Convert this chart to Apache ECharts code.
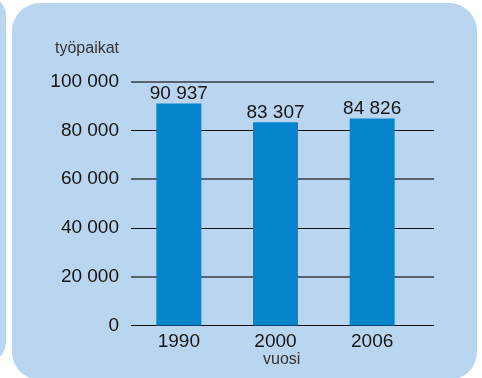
<!DOCTYPE html>
<html>
<head>
<meta charset="utf-8">
<style>
  html, body { margin: 0; padding: 0; background: #ffffff; }
  #chart { width: 482px; height: 378px; }
</style>
<script src="https://cdn.jsdelivr.net/npm/echarts@6/dist/echarts.min.js"></script>
</head>
<body>
<div id="chart"></div>
<script>
// Työpaikat vuosittain
const years = ['1990', '2000', '2006'];
const jobs = [90937, 83307, 84826];
const yTicks = [0, 20000, 40000, 60000, 80000, 100000];

const FONT = "'Liberation Sans', Arial, sans-serif";
const PANEL = '#bad5ef';
const BAR = '#0785cc';
const INK = '#151515';

// 100 000 -> "100 000"
const fmt = v => String(v).replace(/\B(?=(\d{3})+(?!\d))/g, ' ');

const chart = echarts.init(document.getElementById('chart'), null, { renderer: 'canvas' });

const yBase = {
  type: 'value',
  min: yTicks[0],
  max: yTicks[yTicks.length - 1],
  interval: yTicks[1] - yTicks[0],
  axisLine: { show: false },
  axisTick: { show: false }
};

chart.setOption({
  animation: false,
  backgroundColor: 'transparent',
  graphic: [
    { type: 'rect', z: -10, shape: { x: -40, y: -4, width: 46, height: 369, r: [0, 20, 24, 0] }, style: { fill: PANEL } },
    { type: 'rect', z: -10, shape: { x: 12, y: 3, width: 465, height: 377, r: 28 }, style: { fill: PANEL } }
  ],
  title: [
    { text: 'työpaikat', left: 55, top: 41, padding: 0,
      textStyle: { fontFamily: FONT, fontSize: 16, fontWeight: 'normal', color: '#333333' } },
    { text: 'vuosi', left: 263, top: 352, padding: 0,
      textStyle: { fontFamily: FONT, fontSize: 16, fontWeight: 'normal', color: '#333333' } }
  ],
  grid: [
    // grid for the value scale and its lines
    { left: 131, right: 48, top: 81.5, bottom: 52.5 },
    // grid for the bars
    { left: 130.5, right: 61.5, top: 81.5, bottom: 52.5 }
  ],
  xAxis: [
    { gridIndex: 0, type: 'category', data: years, show: false },
    { gridIndex: 1, type: 'category', data: years,
      axisLine: { show: false }, axisTick: { show: false },
      axisLabel: { fontFamily: FONT, fontSize: 19, color: INK, margin: 7 } }
  ],
  yAxis: [
    // black lines at 0, 40 000, 80 000 and the tick labels
    Object.assign({}, yBase, {
      gridIndex: 0,
      axisLabel: { fontFamily: FONT, fontSize: 19, color: INK, margin: 12, formatter: fmt },
      splitLine: { show: true, lineStyle: { color: ['#111111', 'rgba(0,0,0,0)'], width: 1 } }
    }),
    // grey lines at 20 000, 60 000, 100 000
    Object.assign({}, yBase, {
      gridIndex: 0,
      axisLabel: { show: false },
      splitLine: { show: true, lineStyle: { color: ['rgba(0,0,0,0)', '#56636f'], width: 2 } }
    }),
    Object.assign({}, yBase, {
      gridIndex: 1,
      axisLabel: { show: false },
      splitLine: { show: false }
    })
  ],
  series: [
    {
      type: 'bar',
      xAxisIndex: 1,
      yAxisIndex: 2,
      data: jobs,
      barWidth: 45,
      itemStyle: { color: BAR },
      label: {
        show: true,
        position: 'top',
        distance: 0,
        fontFamily: FONT,
        fontSize: 19,
        color: INK,
        formatter: p => fmt(p.value)
      },
      z: 5
    }
  ]
});
</script>
</body>
</html>
